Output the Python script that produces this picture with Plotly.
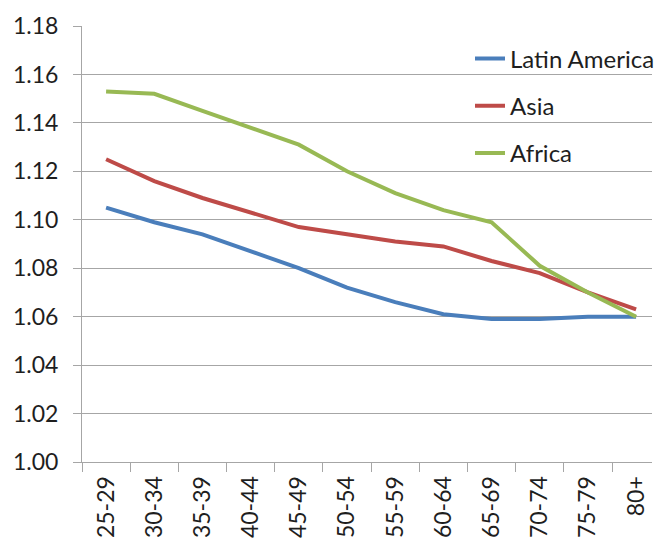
import plotly.graph_objects as go

# Age groups on the category axis
age_groups = ["25-29", "30-34", "35-39", "40-44", "45-49", "50-54",
              "55-59", "60-64", "65-69", "70-74", "75-79", "80+"]

# Ratio values per region
latin_america = [1.105, 1.099, 1.094, 1.087, 1.080, 1.072,
                 1.066, 1.061, 1.059, 1.059, 1.060, 1.060]
asia = [1.125, 1.116, 1.109, 1.103, 1.097, 1.094,
        1.091, 1.089, 1.083, 1.078, 1.070, 1.063]
africa = [1.153, 1.152, 1.145, 1.138, 1.131, 1.120,
          1.111, 1.104, 1.099, 1.081, 1.070, 1.060]

series = [
    ("Latin America", latin_america, "#4a7ebb"),
    ("Asia", asia, "#be4b48"),
    ("Africa", africa, "#98b954"),
]

FONT = "Lato"
TEXT = "#1e1e1e"
GRID = "#a6a6a6"

fig = go.Figure()
for i, (name, vals, color) in enumerate(series):
    fig.add_trace(go.Scatter(
        x=age_groups, y=vals, name=name, mode="lines",
        line=dict(color=color, width=4),
        legendgroup=f"g{i}",
    ))

fig.update_layout(
    width=660, height=538,
    margin=dict(l=82, r=0, t=26, b=76),
    paper_bgcolor="white", plot_bgcolor="white",
    font=dict(family=FONT, size=23, color=TEXT),
    showlegend=True,
    legend=dict(
        x=0.681, y=0.976, xanchor="left", yanchor="top",
        bgcolor="rgba(0,0,0,0)",
        font=dict(family=FONT, size=24, color=TEXT),
        tracegroupgap=13,
        itemwidth=30,
    ),
)

fig.update_xaxes(
    type="category",
    range=[-0.5, 11.33],
    tickson="boundaries",
    ticks="outside", ticklen=9, tickcolor=GRID, tickwidth=1,
    showline=True, linecolor=GRID, linewidth=1,
    showgrid=False,
    tickangle=-90,
    tickfont=dict(family=FONT, size=23, color=TEXT),
    ticklabelstandoff=4,
)

fig.update_yaxes(
    range=[1.0, 1.18],
    tickvals=[1.00, 1.02, 1.04, 1.06, 1.08, 1.10, 1.12, 1.14, 1.16, 1.18],
    tickformat=".2f",
    ticks="outside", ticklen=8, tickcolor=GRID, tickwidth=1,
    showline=True, linecolor=GRID, linewidth=1,
    showgrid=True, gridcolor=GRID, gridwidth=1,
    zeroline=False,
    tickfont=dict(family=FONT, size=23, color=TEXT),
    ticklabelstandoff=10,
)

fig.write_html("out.html")
